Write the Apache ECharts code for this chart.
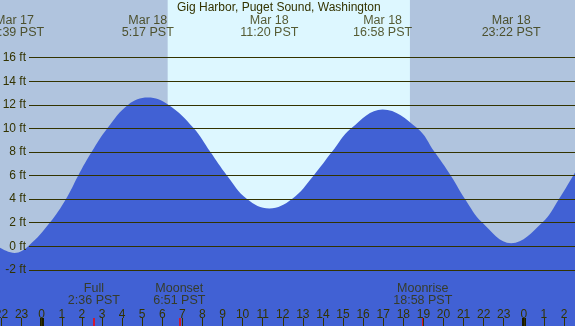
<!DOCTYPE html>
<html>
<head>
<meta charset="utf-8">
<title>Gig Harbor tides</title>
<script src="https://cdn.jsdelivr.net/npm/echarts@6/dist/echarts.min.js"></script>
<style>
    html, body { margin: 0; padding: 0; background: #b0c4de; }
    #tideChart { width: 575px; height: 326px; }
</style>
</head>
<body>
<div id="tideChart"></div>
<script>
    // hours counted from Mar 18 00:00 PST, heights in feet
    var tideHours = [-2.1, -1.35, -0.67, 0.41, 1.21, 1.82, 2.49, 3.27, 4.31, 5.28, 6.3, 7.57, 8.39, 9.22, 10.22,
        11.33, 12.46, 13.54, 14.45, 15.41, 16.97, 18.7, 19.55, 20.36, 21.07, 21.93, 23.37, 24.92, 25.75, 26.7];
    var tideFeet = [-0.1, -0.57, 0, 2, 4, 6, 8, 10, 12, 12.6, 12, 10, 8, 6, 4,
        3.2, 4, 6, 8, 10, 11.6, 10, 8, 6, 4, 2, 0.25, 2, 4, 6.7];

    var extremeHours = [-1.35, 5.28, 11.33, 16.97, 23.37];
    var extremeLabels = ['Mar 17\n22:39 PST', 'Mar 18\n5:17 PST', 'Mar 18\n11:20 PST', 'Mar 18\n16:58 PST', 'Mar 18\n23:22 PST'];

    var moonHours = [2.6, 6.85, 18.97];
    var moonLabels = ['Full\n2:36 PST', 'Moonset\n6:51 PST', 'Moonrise\n18:58 PST'];

    var midnightHours = [0, 24];
    var daylight = [6.27, 18.33];   // sunrise / sunset

    var heightLevels = [-2, 0, 2, 4, 6, 8, 10, 12, 14, 16];

    var FONT = "'Liberation Sans', Arial, sans-serif";
    var INK = '#333300';
    var TOP_ROW = 18.63;   // ft, label row at top
    var MOON_ROW = -4.1;   // ft, label row near bottom

    var chart = echarts.init(document.getElementById('tideChart'));

    var xCommon = { type: 'value', min: -3, max: 27 };

    var option = {
        animation: false,
        backgroundColor: '#b0c4de',
        textStyle: { fontFamily: FONT },
        title: {
            text: 'Gig Harbor, Puget Sound, Washington',
            left: 177, top: 2, padding: 0,
            textStyle: { fontSize: 12, fontWeight: 'normal', color: INK, fontFamily: FONT }
        },
        grid: [
            { left: -18.57, right: -9.1, top: 0, bottom: 0, outerBoundsMode: 'none', containLabel: false },
            { left: 29, right: 0, top: 57.6, bottom: 56.1, outerBoundsMode: 'none', containLabel: false },
            { left: -18.57, right: -9.1, top: 318, bottom: 0, outerBoundsMode: 'none', containLabel: false }
        ],
        xAxis: [
            Object.assign({ gridIndex: 0, show: false }, xCommon),
            { gridIndex: 1, type: 'value', min: 0, max: 1, show: false },
            Object.assign({
                gridIndex: 2,
                position: 'top',
                z: 5,
                interval: 1,
                axisLine: { show: false, onZero: false },
                axisTick: { inside: true, length: 8, lineStyle: { color: INK, width: 1 } },
                splitLine: { show: false },
                axisLabel: {
                    margin: -3, interval: 0, hideOverlap: false,
                    showMinLabel: true, showMaxLabel: true,
                    color: INK, fontSize: 12, fontFamily: FONT,
                    formatter: function (v) { return String(((v % 24) + 24) % 24); }
                }
            }, xCommon)
        ],
        yAxis: [
            { gridIndex: 0, type: 'value', min: -6.77, max: 20.88, show: false },
            {
                gridIndex: 1, type: 'value', z: 3,
                min: heightLevels[0], max: heightLevels[heightLevels.length - 1], interval: 2,
                axisLine: { show: false },
                axisTick: { show: false },
                splitLine: { show: false },
                axisLabel: { formatter: '{value} ft', margin: 3, color: INK, fontSize: 12, fontFamily: FONT }
            },
            { gridIndex: 2, type: 'value', min: 0, max: 1, show: false }
        ],
        series: [
            {
                name: 'tide',
                type: 'line',
                xAxisIndex: 0, yAxisIndex: 0,
                smooth: 0.4,
                symbol: 'none',
                lineStyle: { width: 0 },
                areaStyle: { color: '#4161d4', opacity: 1, origin: 'start' },
                data: tideHours.map(function (h, i) { return [h, tideFeet[i]]; }),
                markArea: {
                    silent: true,
                    itemStyle: { color: '#ddf7ff' },
                    data: [[{ xAxis: daylight[0] }, { xAxis: daylight[1] }]]
                }
            },
            {
                // horizontal height rules, drawn over the water
                name: 'levels',
                type: 'line',
                xAxisIndex: 1, yAxisIndex: 1,
                symbol: 'none',
                data: [],
                z: 3,
                markLine: {
                    silent: true,
                    symbol: ['none', 'none'],
                    label: { show: false },
                    lineStyle: { color: INK, width: 1, type: 'solid' },
                    data: heightLevels.map(function (v) { return { yAxis: v }; })
                }
            },
            {
                name: 'extremes',
                type: 'scatter',
                xAxisIndex: 0, yAxisIndex: 0,
                symbolSize: 1,
                itemStyle: { color: 'transparent' },
                data: extremeHours.map(function (h) { return [h, TOP_ROW]; }),
                label: {
                    show: true, position: 'inside', lineHeight: 12.5,
                    color: INK, fontSize: 12.5, fontFamily: FONT,
                    formatter: function (p) { return extremeLabels[p.dataIndex]; }
                },
                z: 4
            },
            {
                name: 'moon',
                type: 'scatter',
                xAxisIndex: 0, yAxisIndex: 0,
                symbolSize: 1,
                itemStyle: { color: 'transparent' },
                data: moonHours.map(function (h) { return [h, MOON_ROW]; }),
                label: {
                    show: true, position: 'inside', lineHeight: 12.5,
                    color: INK, fontSize: 12.5, fontFamily: FONT,
                    formatter: function (p) { return moonLabels[p.dataIndex]; }
                },
                z: 4
            },
            {
                name: 'marks',
                type: 'line',
                xAxisIndex: 2, yAxisIndex: 2,
                symbol: 'none',
                data: [],
                z: 6,
                markLine: {
                    silent: true,
                    symbol: ['none', 'none'],
                    label: { show: false },
                    data: midnightHours.map(function (h) {
                        return { xAxis: h, lineStyle: { color: '#1a1a00', width: 4, type: 'solid' } };
                    }).concat(moonHours.map(function (h) {
                        return { xAxis: h, lineStyle: { color: '#ff0000', width: 1.5, type: 'solid' } };
                    }))
                }
            }
        ]
    };
    chart.setOption(option);
    window.addEventListener('resize', function () {
        chart.resize();
    });
</script>
</body>
</html>
